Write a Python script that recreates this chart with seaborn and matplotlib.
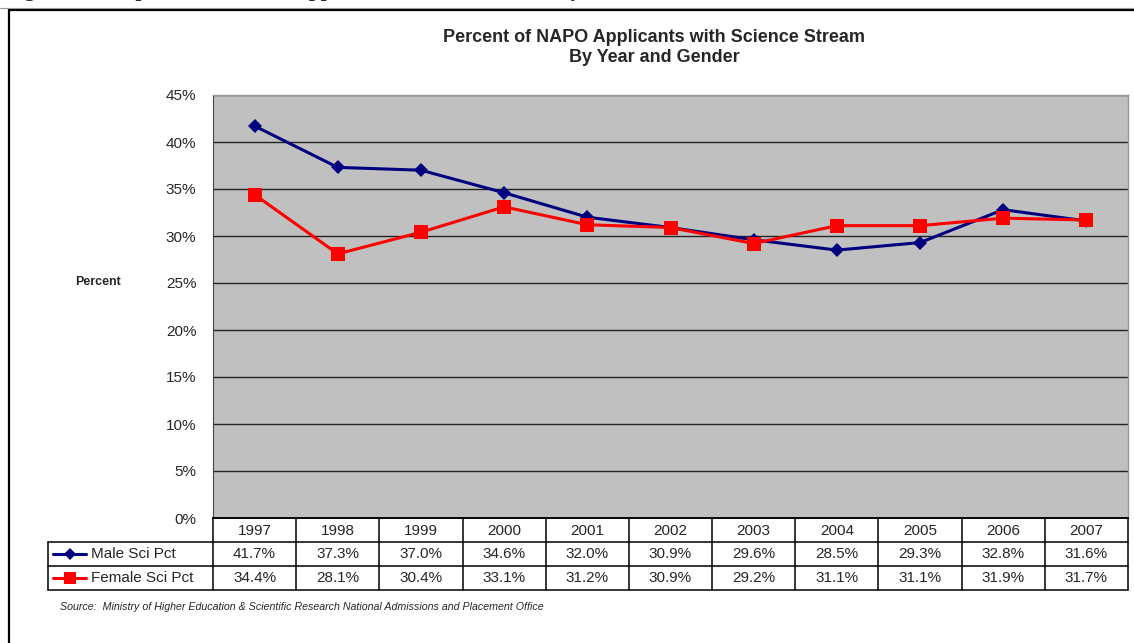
import numpy as np
import pandas as pd
import matplotlib
matplotlib.use("Agg")
import matplotlib.pyplot as plt
import seaborn as sns
from matplotlib.lines import Line2D
from matplotlib.patches import Rectangle

years = ["1997", "1998", "1999", "2000", "2001", "2002", "2003", "2004", "2005", "2006", "2007"]
male_pct = [41.7, 37.3, 37.0, 34.6, 32.0, 30.9, 29.6, 28.5, 29.3, 32.8, 31.6]
female_pct = [34.4, 28.1, 30.4, 33.1, 31.2, 30.9, 29.2, 31.1, 31.1, 31.9, 31.7]
series_names = ["Male Sci Pct", "Female Sci Pct"]
yticks = [0, 5, 10, 15, 20, 25, 30, 35, 40, 45]

sns.set_style("white")
plt.rcParams["font.family"] = ["Liberation Sans", "DejaVu Sans"]

W, H = 1134, 643
fig = plt.figure(figsize=(W / 100, H / 100), dpi=100)


def px(x0, y0, x1, y1):
    return [x0 / W, 1 - y1 / H, (x1 - x0) / W, (y1 - y0) / H]


# outer frame of the figure box (cut at right/bottom)
fig.add_artist(Rectangle((9 / W, -0.1), 1.2, 1 - 10 / H + 0.1, transform=fig.transFigure,
                         fill=False, lw=1.6, ec="black"))
fig.add_artist(Line2D([0, 1], [1 - 8 / H] * 2, transform=fig.transFigure, color="#999999", lw=0.8))
fig.text(0.005, 1 + 4 / H, "Figure 4: Comparison of NAPO Applicants in Science Stream by Gender",
         family="Liberation Serif", weight="bold", fontsize=15, va="baseline", ha="left")

ax = fig.add_axes(px(213, 95, 1128, 518))
df = pd.DataFrame({"year": years * 2,
                   "pct": male_pct + female_pct,
                   "series": [series_names[0]] * len(years) + [series_names[1]] * len(years)})
df["x"] = list(range(len(years))) * 2
colors = {series_names[0]: "#000080", series_names[1]: "#FF0000"}
marks = {series_names[0]: "D", series_names[1]: "s"}
sizes = {series_names[0]: 7, series_names[1]: 10.5}
for name in series_names:
    sub = df[df["series"] == name]
    sns.lineplot(data=sub, x="x", y="pct", ax=ax, color=colors[name], lw=2.2,
                 marker=marks[name], markersize=sizes[name], markeredgewidth=0,
                 legend=False, zorder=3)

ax.set_facecolor("#C0C0C0")
ax.set_xlim(-0.5, len(years) - 0.5)
ax.set_ylim(0, 45)
ax.set_yticks(yticks)
ax.set_yticklabels([f"{v}%" for v in yticks], fontsize=11)
ax.set_xticks([])
ax.set_xlabel("")
ax.set_ylabel("")
for v in yticks[1:]:
    ax.axhline(v, color="#222222", lw=1.0, zorder=1)
ax.tick_params(axis="y", length=8, width=0.8, color="#444444", direction="out", pad=4)
for s in ["top", "right"]:
    ax.spines[s].set_color("#999999")
    ax.spines[s].set_linewidth(1.0)
ax.spines["left"].set_color("#444444")
ax.spines["bottom"].set_color("black")
ax.spines["bottom"].set_linewidth(1.2)

fig.text(98 / W, 1 - 282 / H, "Percent", fontsize=9, weight="bold", ha="center", va="center")

fig.text(654 / W, 1 - 38 / H, "Percent of NAPO Applicants with Science Stream",
         fontsize=13, weight="bold", ha="center", va="center")
fig.text(654 / W, 1 - 58 / H, "By Year and Gender",
         fontsize=13, weight="bold", ha="center", va="center")

# data table below the plot
tax = fig.add_axes(px(48, 518, 1128, 590))
col_w = 915 / len(years)
label_w = (213 - 48) / col_w
x_left = -0.5 - label_w
tax.set_xlim(x_left, len(years) - 0.5)
tax.set_ylim(3, 0)
tax.axis("off")
rows = [male_pct, female_pct]
edge = dict(color="black", lw=1.1, clip_on=False)
# header row (years)
tax.plot([-0.5, len(years) - 0.5], [0, 0], **edge)
for i, yr in enumerate(years):
    tax.text(i, 0.55, yr, ha="center", va="center", fontsize=11)
for r, vals in enumerate(rows):
    yc = r + 1.5
    for i, v in enumerate(vals):
        tax.text(i, yc, f"{v:.1f}%", ha="center", va="center", fontsize=11)
    tax.text(x_left + 0.52, yc, series_names[r], ha="left", va="center", fontsize=11)
    lx0, lx1 = x_left + 0.06, x_left + 0.46
    tax.plot([lx0, lx1], [yc, yc], color=colors[series_names[r]], lw=2.2, clip_on=False)
    tax.plot([(lx0 + lx1) / 2], [yc], marker=marks[series_names[r]], color=colors[series_names[r]],
             markersize=sizes[series_names[r]] * 0.85, markeredgewidth=0, clip_on=False)
for yv in [1, 2, 3]:
    tax.plot([x_left, len(years) - 0.5], [yv, yv], **edge)
tax.plot([x_left, x_left], [1, 3], **edge)
for i in range(len(years) + 1):
    tax.plot([i - 0.5, i - 0.5], [0, 3], **edge)

fig.text(60 / W, 1 - 607 / H,
         "Source:  Ministry of Higher Education & Scientific Research National Admissions and Placement Office",
         fontsize=7.7, style="italic", ha="left", va="center")

fig.savefig("out.png", dpi=100)
